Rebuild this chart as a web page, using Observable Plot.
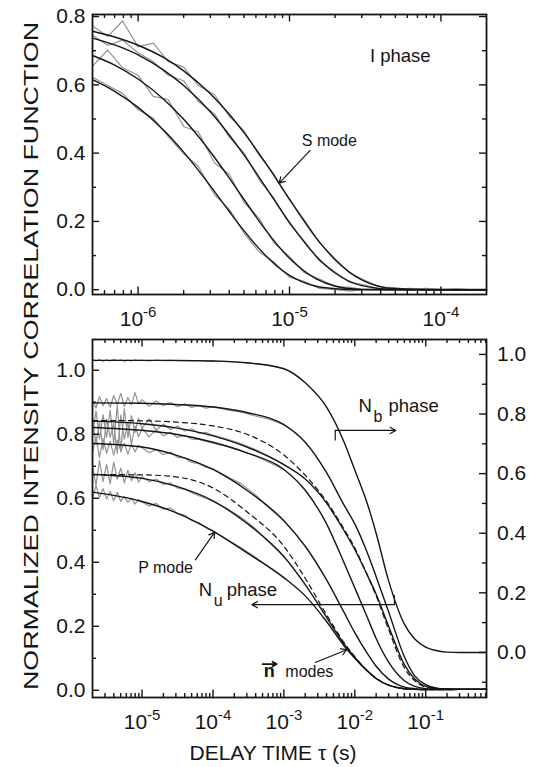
<!DOCTYPE html>
<html><head><meta charset="utf-8">
<script src="https://cdn.jsdelivr.net/npm/d3@7"></script>
<script src="https://cdn.jsdelivr.net/npm/@observablehq/plot@0.6"></script>
<style>
body{margin:0;background:#fff;}
#chart{position:relative;width:536px;height:767px;overflow:hidden;background:#fff;}
</style></head><body><div id="chart"></div>
<script>
// ---------------- DATA ----------------
// Top panel (I phase) – fitted curves
const topFitX = [5e-7, 7e-7, 1e-6, 1.5e-6, 2e-6, 3e-6, 4e-6, 5e-6, 7e-6, 1e-5, 1.5e-5, 2e-5, 3e-5, 5e-5, 1e-4, 2e-4];
const topFitA = [0.757, 0.740, 0.716, 0.678, 0.641, 0.574, 0.514, 0.460, 0.369, 0.265, 0.152, 0.088, 0.029, 0.003, 0.000, 0.000];
const topFitB = [0.737, 0.717, 0.688, 0.641, 0.598, 0.521, 0.453, 0.395, 0.299, 0.197, 0.098, 0.049, 0.012, 0.001, 0.000, 0.000];
const topFitC = [0.686, 0.658, 0.617, 0.555, 0.499, 0.404, 0.327, 0.265, 0.173, 0.092, 0.032, 0.011, 0.001, 0.000, 0.000, 0.000];
const topFitD = [0.615, 0.581, 0.534, 0.464, 0.403, 0.304, 0.229, 0.173, 0.099, 0.042, 0.010, 0.003, 0.000, 0.000, 0.000, 0.000];
// Top panel – measured (grey) data
const topDataX = [5.0e-7, 6.3e-7, 7.9e-7, 1.0e-6, 1.26e-6, 1.58e-6, 2.0e-6, 2.5e-6, 3.2e-6, 4.0e-6, 5.0e-6, 6.3e-6, 7.9e-6, 1.0e-5, 1.26e-5, 1.58e-5, 2.0e-5, 2.5e-5, 3.2e-5, 4.0e-5, 5.0e-5, 6.3e-5, 7.9e-5, 1.0e-4, 1.26e-4, 1.58e-4, 2.0e-4];
const topDataA = [0.772, 0.742, 0.787, 0.712, 0.722, 0.668, 0.652, 0.598, 0.571, 0.508, 0.466, 0.394, 0.338, 0.262, 0.203, 0.137, 0.091, 0.048, 0.026, 0.008, 0.006, 0.000, 0.004, 0.001, 0.003, 0.000, 0.002];
const topDataB = [0.745, 0.716, 0.731, 0.694, 0.668, 0.628, 0.612, 0.551, 0.515, 0.447, 0.401, 0.322, 0.268, 0.193, 0.141, 0.084, 0.052, 0.022, 0.013, 0.002, 0.004, 0.000, 0.003, 0.000, 0.002, 0.001, 0.000];
const topDataC = [0.655, 0.702, 0.650, 0.628, 0.566, 0.557, 0.478, 0.462, 0.371, 0.338, 0.256, 0.209, 0.137, 0.097, 0.049, 0.031, 0.009, 0.007, 0.000, 0.003, 0.001, 0.004, 0.000, 0.002, 0.000, 0.001, 0.000];
const topDataD = [0.622, 0.598, 0.575, 0.527, 0.502, 0.449, 0.398, 0.361, 0.278, 0.236, 0.166, 0.111, 0.081, 0.037, 0.024, 0.004, 0.000, -0.004, 0.002, 0.000, 0.001, 0.000, 0.002, 0.000, 0.001, 0.000, 0.001];

// Bottom panel (Nu phase: left axis, Nb phase: right axis) – fitted curves
const botFitX = [2e-6, 1e-5, 3e-5, 1e-4, 3e-4, 1e-3, 2e-3, 4e-3, 7e-3, 1e-2, 1.5e-2, 2e-2, 3e-2, 5e-2, 7e-2, 0.1, 0.15, 0.2, 0.3, 0.72];
const botFitS1 = [0.898, 0.897, 0.893, 0.885, 0.868, 0.830, 0.775, 0.680, 0.580, 0.520, 0.430, 0.355, 0.245, 0.105, 0.045, 0.018, 0.006, 0.004, 0.003, 0.003];
const botFitS2 = [0.841, 0.833, 0.820, 0.795, 0.760, 0.705, 0.660, 0.585, 0.500, 0.440, 0.360, 0.300, 0.200, 0.080, 0.035, 0.012, 0.005, 0.004, 0.003, 0.003];
const botFitS3 = [0.821, 0.812, 0.800, 0.775, 0.742, 0.690, 0.625, 0.520, 0.400, 0.320, 0.228, 0.162, 0.088, 0.030, 0.012, 0.005, 0.003, 0.003, 0.003, 0.003];
const botFitS4 = [0.771, 0.760, 0.735, 0.690, 0.625, 0.530, 0.450, 0.345, 0.245, 0.180, 0.115, 0.075, 0.035, 0.010, 0.005, 0.003, 0.003, 0.003, 0.003, 0.003];
const botFitS5 = [0.674, 0.662, 0.638, 0.592, 0.522, 0.418, 0.330, 0.228, 0.146, 0.103, 0.061, 0.037, 0.016, 0.005, 0.003, 0.002, 0.002, 0.002, 0.003, 0.003];
const botFitS6 = [0.619, 0.590, 0.555, 0.497, 0.430, 0.352, 0.295, 0.215, 0.140, 0.100, 0.060, 0.037, 0.016, 0.005, 0.003, 0.002, 0.002, 0.002, 0.003, 0.003];
const botDash1 = [0.843, 0.842, 0.838, 0.826, 0.800, 0.735, 0.672, 0.590, 0.505, 0.445, 0.360, 0.295, 0.190, 0.070, 0.030, 0.010, 0.005, 0.004, 0.003, 0.003];
const botDash2 = [0.674, 0.673, 0.667, 0.632, 0.558, 0.450, 0.350, 0.236, 0.150, 0.105, 0.062, 0.038, 0.016, 0.005, 0.003, 0.002, 0.002, 0.002, 0.003, 0.003];
const botFitNb = [0.980, 0.980, 0.980, 0.978, 0.972, 0.952, 0.905, 0.823, 0.708, 0.612, 0.500, 0.400, 0.240, 0.095, 0.045, 0.018, 0.005, 0.001, 0.000, 0.000]; // right-axis units
// Bottom panel – measured (grey) data
const botDataX = [2.00e-6, 2.24e-6, 2.51e-6, 2.82e-6, 3.16e-6, 3.55e-6, 3.98e-6, 4.47e-6, 5.01e-6, 5.62e-6, 6.31e-6, 7.08e-6, 7.94e-6, 8.91e-6, 1.00e-5, 1.26e-5, 1.58e-5, 2.00e-5, 2.51e-5, 3.16e-5, 3.98e-5, 5.01e-5, 6.31e-5, 7.94e-5, 1.00e-4, 1.58e-4, 2.51e-4, 3.98e-4, 6.31e-4, 1.00e-3];
const botDataS1 = [0.905, 0.882, 0.918, 0.889, 0.912, 0.884, 0.921, 0.893, 0.928, 0.887, 0.915, 0.892, 0.930, 0.895, 0.908, 0.887, 0.904, 0.889, 0.899, 0.886, 0.895, 0.884, 0.890, 0.881, 0.887, 0.876, 0.869, 0.857, 0.846, 0.830];
const botDataS2 = [0.800, 0.872, 0.785, 0.861, 0.790, 0.875, 0.770, 0.890, 0.745, 0.880, 0.790, 0.858, 0.805, 0.850, 0.818, 0.848, 0.812, 0.832, 0.815, 0.826, 0.810, 0.817, 0.803, 0.806, 0.797, 0.785, 0.770, 0.752, 0.730, 0.705];
const botDataS3 = [0.852, 0.770, 0.840, 0.752, 0.848, 0.790, 0.835, 0.740, 0.860, 0.785, 0.838, 0.770, 0.826, 0.792, 0.818, 0.792, 0.815, 0.795, 0.806, 0.790, 0.797, 0.785, 0.784, 0.778, 0.772, 0.762, 0.748, 0.732, 0.711, 0.690];
const botDataS4 = [0.742, 0.792, 0.728, 0.786, 0.740, 0.778, 0.735, 0.782, 0.748, 0.772, 0.738, 0.770, 0.745, 0.765, 0.758, 0.742, 0.752, 0.736, 0.744, 0.728, 0.726, 0.712, 0.708, 0.697, 0.692, 0.668, 0.645, 0.610, 0.568, 0.530];
const botDataS5 = [0.700, 0.640, 0.718, 0.652, 0.706, 0.645, 0.712, 0.660, 0.694, 0.648, 0.688, 0.655, 0.680, 0.650, 0.668, 0.652, 0.660, 0.643, 0.648, 0.632, 0.628, 0.617, 0.608, 0.600, 0.590, 0.568, 0.540, 0.505, 0.460, 0.418];
const botDataS6 = [0.598, 0.640, 0.602, 0.630, 0.598, 0.622, 0.592, 0.618, 0.590, 0.606, 0.588, 0.600, 0.582, 0.596, 0.588, 0.576, 0.584, 0.566, 0.570, 0.552, 0.548, 0.530, 0.524, 0.508, 0.498, 0.470, 0.445, 0.416, 0.383, 0.352];
const botDataNb = [0.984, 0.978, 0.983, 0.977, 0.982, 0.978, 0.984, 0.979, 0.982, 0.977, 0.981, 0.978, 0.982, 0.979, 0.981, 0.978, 0.981, 0.979, 0.980, 0.978, 0.979, 0.977, 0.979, 0.977, 0.978, 0.976, 0.973, 0.969, 0.962, 0.952];

// Ticks / labels
const topXMajor = [1e-6, 1e-5, 1e-4];
const botXMajor = [1e-5, 1e-4, 1e-3, 1e-2, 1e-1];
const topYMajor = [0, 0.2, 0.4, 0.6, 0.8];
const topYMinor = [0.1, 0.3, 0.5, 0.7];
const botYMajor = [0, 0.2, 0.4, 0.6, 0.8, 1.0];
const botYMinor = [0.1, 0.3, 0.5, 0.7, 0.9];
const rightMajor = [0, 0.2, 0.4, 0.6, 0.8, 1.0];
const rightMinor = [-0.1, 0.1, 0.3, 0.5, 0.7, 0.9];
const yTitle = "NORMALIZED  INTENSITY  CORRELATION  FUNCTION";
const xTitle = "DELAY TIME \u03C4 (s)";

// ---------------- LAYOUT ----------------
const FONT = '"Liberation Sans", Arial, Helvetica, sans-serif';
const INK = "#151515", GREY = "#939393";
const W = 536, ML = 92, MR = 50;
const FW = W - ML - MR;
const topH = 335, topMT = 14, topMB = 41, topFH = topH - topMT - topMB;
const botTop = 335, botH = 432, botMT = 4, botMB = 70, botFH = botH - botMT - botMB;
const topXDomain = [5e-7, 2e-4], topYDomain = [-0.014, 0.806];
const botXDomain = [2e-6, 0.72], botYDomain = [-0.0225, 1.096];
// right axis (Nb) expressed in left-axis units
const rightZero = 0.1183, rightOne = 1.0494;
const toLeft = r => rightZero + r * (rightOne - rightZero);

const minorLog = dom => { const o = []; for (let e = -8; e <= 1; e++) for (let m = 2; m <= 9; m++) { const v = m * Math.pow(10, e); if (v > dom[0] * 1.001 && v < dom[1] * 0.999) o.push(v); } return o; };
const rows = (xs, pairs) => pairs.flatMap(([s, ys]) => ys.map((y, i) => ({x: xs[i], y, s})));
const supFmt = d => "10^" + Math.round(Math.log10(d));

function inTicks(vals, axis, side, len, fh, map = d => d) {
  const o = {stroke: INK, strokeWidth: 1.4};
  if (axis === "x") return Plot.tickX(vals, {x: map, ...o, [side === "bottom" ? "insetTop" : "insetBottom"]: fh - len});
  return Plot.tickY(vals, {y: map, ...o, [side === "left" ? "insetRight" : "insetLeft"]: FW - len});
}
function superscripts(svg) {
  svg.querySelectorAll("text").forEach(t => {
    const m = /^10\^(-?\d+)$/.exec(t.textContent);
    if (!m) return;
    t.textContent = "10";
    const ts = document.createElementNS("http://www.w3.org/2000/svg", "tspan");
    ts.setAttribute("dy", "-9");
    ts.setAttribute("font-size", "15");
    ts.textContent = m[1];
    t.appendChild(ts);
  });
}
const baseStyle = {fontFamily: FONT, fontSize: "21px", background: "transparent", overflow: "visible", color: INK};

// ---------------- TOP PANEL ----------------
const topGrey = rows(topDataX, [["A", topDataA], ["B", topDataB], ["C", topDataC], ["D", topDataD]]);
const topFits = rows(topFitX, [["A", topFitA], ["B", topFitB], ["C", topFitC], ["D", topFitD]]);
const topMinorX = minorLog(topXDomain);

const topPlot = Plot.plot({
  width: W, height: topH, marginLeft: ML, marginRight: MR, marginTop: topMT, marginBottom: topMB,
  style: baseStyle,
  x: {type: "log", domain: topXDomain, axis: null, label: null},
  y: {domain: topYDomain, axis: null, label: null},
  marks: [
    Plot.line(topGrey, {x: "x", y: "y", z: "s", stroke: GREY, strokeWidth: 1.2}),
    Plot.line(topFits, {x: "x", y: "y", z: "s", stroke: INK, strokeWidth: 1.4, curve: "monotone-x"}),
    inTicks(topXMajor, "x", "bottom", 7.5, topFH), inTicks(topMinorX, "x", "bottom", 4, topFH),
    inTicks(topXMajor, "x", "top", 7.5, topFH), inTicks(topMinorX, "x", "top", 4, topFH),
    inTicks(topYMajor, "y", "left", 7, topFH), inTicks(topYMinor, "y", "left", 4, topFH),
    inTicks(topYMajor, "y", "right", 7, topFH), inTicks(topYMinor, "y", "right", 4, topFH),
    Plot.axisX(topXMajor, {anchor: "bottom", tickSize: 0, tickPadding: 17, tickFormat: supFmt, fontSize: 21, label: null}),
    Plot.axisY(topYMajor, {anchor: "left", tickSize: 0, tickPadding: 7, tickFormat: d3.format(".1f"), fontSize: 21, label: null}),
    Plot.text(["I phase"], {x: [3.40e-5], y: [0.6665], textAnchor: "start", lineAnchor: "bottom", fontSize: 18.5, fill: INK}),
    Plot.text(["S mode"], {x: [1.205e-5], y: [0.4196], textAnchor: "start", lineAnchor: "bottom", fontSize: 16, fill: INK}),
    Plot.arrow([{x1: 1.369e-5, y1: 0.408, x2: 8.55e-6, y2: 0.312}], {x1: "x1", y1: "y1", x2: "x2", y2: "y2", stroke: INK, strokeWidth: 1.2, headLength: 8}),
    Plot.frame({stroke: INK, strokeWidth: 1.8})
  ]
});
superscripts(topPlot);

// ---------------- BOTTOM PANEL ----------------
const botGrey = rows(botDataX, [["S1", botDataS1], ["S2", botDataS2], ["S3", botDataS3], ["S4", botDataS4], ["S5", botDataS5], ["S6", botDataS6], ["Nb", botDataNb.map(toLeft)]]);
const botFits = rows(botFitX, [["S1", botFitS1], ["S2", botFitS2], ["S3", botFitS3], ["S4", botFitS4], ["S5", botFitS5], ["S6", botFitS6], ["Nb", botFitNb.map(toLeft)]]);
const botDash = rows(botFitX, [["D1", botDash1], ["D2", botDash2]]);
const botMinorX = minorLog(botXDomain);

const botPlot = Plot.plot({
  width: W, height: botH, marginLeft: ML, marginRight: MR, marginTop: botMT, marginBottom: botMB,
  style: baseStyle,
  x: {type: "log", domain: botXDomain, axis: null, label: null},
  y: {domain: botYDomain, axis: null, label: null},
  marks: [
    Plot.line(botGrey, {x: "x", y: "y", z: "s", stroke: GREY, strokeWidth: 1.2}),
    Plot.line(botDash, {x: "x", y: "y", z: "s", stroke: INK, strokeWidth: 1.2, strokeDasharray: "5,4", curve: "monotone-x"}),
    Plot.line(botFits, {x: "x", y: "y", z: "s", stroke: INK, strokeWidth: 1.4, curve: "monotone-x"}),
    inTicks(botXMajor, "x", "bottom", 7.5, botFH), inTicks(botMinorX, "x", "bottom", 4, botFH),
    inTicks(botXMajor, "x", "top", 7.5, botFH), inTicks(botMinorX, "x", "top", 4, botFH),
    inTicks(botYMajor, "y", "left", 7, botFH), inTicks(botYMinor, "y", "left", 4, botFH),
    inTicks(rightMajor, "y", "right", 7, botFH, toLeft), inTicks(rightMinor, "y", "right", 4, botFH, toLeft),
    Plot.axisX(botXMajor, {anchor: "bottom", tickSize: 0, tickPadding: 16.5, tickFormat: supFmt, fontSize: 21, label: null}),
    Plot.axisY(botYMajor, {anchor: "left", tickSize: 0, tickPadding: 7, tickFormat: d3.format(".1f"), fontSize: 21, label: null}),
    Plot.axisY(rightMajor.map(toLeft), {anchor: "right", tickSize: 0, tickPadding: 10.5, tickFormat: d => ((d - rightZero) / (rightOne - rightZero)).toFixed(1), fontSize: 21, label: null}),
    // annotations
    Plot.text(["N"], {x: [1.127e-2], y: [0.8695], textAnchor: "start", lineAnchor: "bottom", fontSize: 18.5, fill: INK}),
    Plot.text(["b"], {x: [1.127e-2], y: [0.8695], dx: 15, dy: 10, textAnchor: "start", lineAnchor: "bottom", fontSize: 16, fill: INK}),
    Plot.text(["phase"], {x: [1.127e-2], y: [0.8695], dx: 30, textAnchor: "start", lineAnchor: "bottom", fontSize: 18.5, fill: INK}),
    Plot.ruleX([5.3e-3], {y1: 0.812, y2: 0.779, stroke: INK, strokeWidth: 1.2}),
    Plot.arrow([{x1: 5.3e-3, y1: 0.812, x2: 0.0378, y2: 0.812}], {x1: "x1", y1: "y1", x2: "x2", y2: "y2", stroke: INK, strokeWidth: 1.2, headLength: 8}),
    Plot.text(["N"], {x: [6.29e-5], y: [0.2936], textAnchor: "start", lineAnchor: "bottom", fontSize: 18.5, fill: INK}),
    Plot.text(["u"], {x: [6.29e-5], y: [0.2936], dx: 15, dy: 9.5, textAnchor: "start", lineAnchor: "bottom", fontSize: 16, fill: INK}),
    Plot.text(["phase"], {x: [6.29e-5], y: [0.2936], dx: 28, textAnchor: "start", lineAnchor: "bottom", fontSize: 18.5, fill: INK}),
    Plot.ruleX([0.0362], {y1: 0.2958, y2: 0.2676, stroke: INK, strokeWidth: 1.2}),
    Plot.arrow([{x1: 0.0362, y1: 0.2676, x2: 3.54e-4, y2: 0.2676}], {x1: "x1", y1: "y1", x2: "x2", y2: "y2", stroke: INK, strokeWidth: 1.2, headLength: 8}),
    Plot.text(["P mode"], {x: [8.8e-6], y: [0.3668], textAnchor: "start", lineAnchor: "bottom", fontSize: 16, fill: INK}),
    Plot.arrow([{x1: 5.65e-5, y1: 0.4075, x2: 1.057e-4, y2: 0.494}], {x1: "x1", y1: "y1", x2: "x2", y2: "y2", stroke: INK, strokeWidth: 1.2, headLength: 8}),
    Plot.text(["n"], {x: [5.18e-4], y: [0.040], textAnchor: "start", lineAnchor: "bottom", fontSize: 18, fontWeight: "bold", fill: INK}),
    Plot.arrow([{x1: 5.01e-4, y1: 0.082, x2: 7.89e-4, y2: 0.082}], {x1: "x1", y1: "y1", x2: "x2", y2: "y2", stroke: INK, strokeWidth: 1.8, headLength: 5}),
    Plot.text(["modes"], {x: [1.047e-3], y: [0.040], textAnchor: "start", lineAnchor: "bottom", fontSize: 16, fill: INK}),
    Plot.arrow([{x1: 2.77e-3, y1: 0.087, x2: 7.72e-3, y2: 0.1268}], {x1: "x1", y1: "y1", x2: "x2", y2: "y2", stroke: INK, strokeWidth: 1.2, headLength: 8}),
    Plot.frame({stroke: INK, strokeWidth: 1.8})
  ]
});
superscripts(botPlot);

const chart = document.getElementById("chart");
topPlot.style.position = "absolute"; topPlot.style.left = "0px"; topPlot.style.top = "0px";
botPlot.style.position = "absolute"; botPlot.style.left = "0px"; botPlot.style.top = botTop + "px";
chart.appendChild(topPlot);
chart.appendChild(botPlot);

// Shared axis titles
const ov = d3.select(chart).append("svg")
  .attr("width", W).attr("height", 767)
  .style("position", "absolute").style("left", "0px").style("top", "0px")
  .style("font-family", FONT).style("pointer-events", "none");
ov.append("text")
  .attr("transform", "translate(38,356) rotate(-90)")
  .attr("text-anchor", "middle")
  .attr("font-size", 20).attr("fill", INK)
  .attr("textLength", 668).attr("lengthAdjust", "spacingAndGlyphs")
  .text(yTitle);
ov.append("text")
  .attr("x", 273).attr("y", 760)
  .attr("text-anchor", "middle")
  .attr("font-size", 21).attr("fill", INK)
  .text(xTitle);
</script>
</body></html>
